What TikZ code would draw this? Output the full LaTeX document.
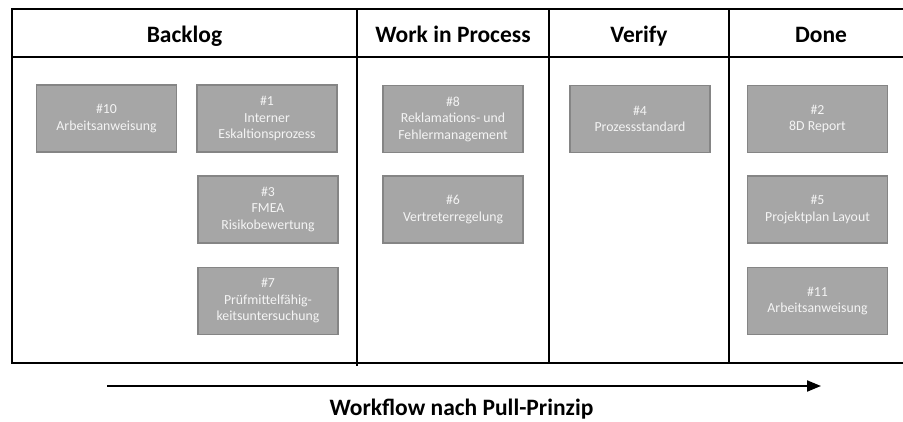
\documentclass[tikz,border=0pt]{standalone}
\usepackage{fontspec}
\setmainfont{Carlito}
\usetikzlibrary{arrows.meta}
\definecolor{cardfill}{HTML}{A6A6A6}
\definecolor{carddraw}{HTML}{858585}
\definecolor{cardtext}{HTML}{F4F4F4}
\tikzset{
  card/.style={draw=carddraw, line width=1.5pt, fill=cardfill, text=cardtext,
    minimum width=140pt, minimum height=67pt, inner sep=2pt, align=center,
    font=\fontsize{13.8}{16.5}\selectfont},
  head/.style={anchor=base, font=\fontsize{23.5}{26}\selectfont\bfseries},
  frame/.style={line width=2.5pt, black},
  sep/.style={line width=2pt, black}
}
\begin{document}
\begin{tikzpicture}[x=1pt,y=-1pt]
\useasboundingbox (0,0) rectangle (903,421);
% frame
\draw[frame] (910,9) -- (12,9) -- (12,363) -- (910,363);
\draw[sep] (12,57) -- (910,57);
\draw[sep] (357,9) -- (357,366);
\draw[sep] (549,9) -- (549,363);
\draw[sep] (729,9) -- (729,363);
% headers
\node[head] (hb) at (184.5,42) {Backlog};
\node[head] (hw) at (453,42) {Work in Process};
\node[head] (hv) at (639,42) {Verify};
\node[head] (hd) at (821,42) {Done};
% cards
\node[card] (c10) at (106.5,118.5) {\#10\\Arbeitsanweisung};
\node[card] (c1) at (267,118.5) {\#1\\Interner\\Eskaltionsprozess};
\node[card] (c3) at (268,209.5) {\#3\\FMEA\\Risikobewertung};
\node[card] (c7) at (268,301) {\#7\\Prüfmittelfähig-\\keitsuntersuchung};
\node[card] (c8) at (453,119) {\#8\\Reklamations- und\\Fehlermanagement};
\node[card] (c6) at (453,209.5) {\#6\\Vertreterregelung};
\node[card] (c4) at (640,119) {\#4\\Prozessstandard};
\node[card] (c2) at (817.5,119) {\#2\\8D Report};
\node[card] (c5) at (817.5,209.5) {\#5\\Projektplan Layout};
\node[card] (c11) at (817.5,301) {\#11\\Arbeitsanweisung};
% workflow arrow
\coordinate (wa) at (107,386);
\coordinate (wb) at (821,386);
\draw[line width=2pt, -{Triangle[length=14pt,width=11pt]}] (wa) -- (wb);
\node[anchor=base, font=\fontsize{23.5}{26}\selectfont\bfseries] (wl) at (461.5,415) {Workflow nach Pull-Prinzip};
\end{tikzpicture}
\end{document}
